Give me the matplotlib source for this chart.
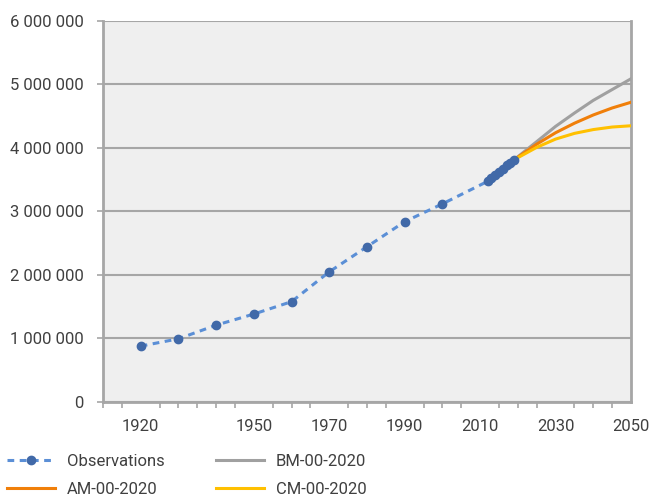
import numpy as np
import matplotlib.pyplot as plt
from matplotlib.ticker import FuncFormatter, MultipleLocator

plt.rcParams['font.family'] = ['Roboto', 'DejaVu Sans']

# Observed population
obs_years = [1920, 1930, 1940, 1950, 1960, 1970, 1980, 1990, 2000,
             2012, 2013, 2014, 2015, 2016, 2017, 2018, 2019]
obs_values = [880000, 995000, 1210000, 1385000, 1580000, 2050000, 2445000,
              2840000, 3120000,
              3475000, 3525000, 3575000, 3625000, 3675000, 3725000, 3770000, 3815000]

# Projections
proj_years = [2019, 2025, 2030, 2035, 2040, 2045, 2050]
bm_values = [3815000, 4100000, 4340000, 4550000, 4750000, 4920000, 5090000]
am_values = [3815000, 4060000, 4240000, 4390000, 4520000, 4630000, 4720000]
cm_values = [3815000, 4010000, 4140000, 4230000, 4290000, 4330000, 4350000]

text_col = '#404040'
grid_col = '#a6a6a6'

fig = plt.figure(figsize=(6.53, 4.95), dpi=100)
ax = fig.add_axes([0.1577, 0.1879, 0.8086, 0.7697])
ax.set_facecolor('#efefef')

obs, = ax.plot(obs_years, obs_values, color='#5b8fd6', linewidth=2.2,
               linestyle=(0, (2.2, 1.8)), marker='o', markersize=6,
               markerfacecolor='#4169a8', markeredgecolor='#4169a8', zorder=4)
bm, = ax.plot(proj_years, bm_values, color='#a0a0a0', linewidth=2.2, zorder=3)
am, = ax.plot(proj_years, am_values, color='#f07f0a', linewidth=2.2, zorder=3)
cm, = ax.plot(proj_years, cm_values, color='#ffc000', linewidth=2.2, zorder=3)

ax.set_xlim(1910, 2050)
ax.set_ylim(0, 6000000)
ax.set_xticks([1920, 1950, 1970, 1990, 2010, 2030, 2050])
ax.xaxis.set_minor_locator(MultipleLocator(5))
ax.yaxis.set_major_locator(MultipleLocator(1000000))
ax.yaxis.set_major_formatter(FuncFormatter(lambda v, p: f'{int(v):,}'.replace(',', ' ')))

ax.grid(axis='y', color=grid_col, linewidth=1.5)
ax.set_axisbelow(True)
for side in ['left', 'bottom', 'right']:
    ax.spines[side].set_color(grid_col)
    ax.spines[side].set_linewidth(2)
ax.spines['top'].set_visible(False)

ax.tick_params(axis='x', which='major', length=0, pad=12, labelsize=12, labelcolor=text_col)
ax.tick_params(axis='x', which='minor', length=4, color=grid_col, width=1.2)
ax.tick_params(axis='y', length=4, color=grid_col, width=1.2, pad=10,
               labelsize=12, labelcolor=text_col)

fig.legend([obs, am, bm, cm], ['Observations', 'AM-00-2020', 'BM-00-2020', 'CM-00-2020'],
           ncol=2, loc='upper left', bbox_to_anchor=(0.0, 0.097), frameon=False,
           fontsize=12, labelcolor=text_col, handlelength=2.9, handletextpad=0.7,
           columnspacing=3.1, labelspacing=0.8, borderaxespad=0)

fig.savefig('out.png', dpi=100)
